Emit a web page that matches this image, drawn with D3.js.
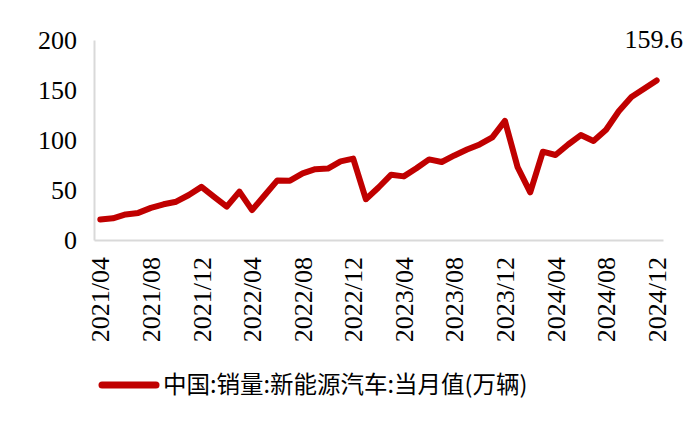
<!DOCTYPE html>
<html>
<head>
<meta charset="utf-8">
<script src="https://cdn.jsdelivr.net/npm/d3@7"></script>
<style>
  html, body { margin: 0; padding: 0; background: #fff; }
  svg { display: block; }
</style>
</head>
<body>
<svg id="chart" width="700" height="425"></svg>
<script>
const months = [
  "2021/04","2021/05","2021/06","2021/07","2021/08","2021/09","2021/10","2021/11","2021/12",
  "2022/01","2022/02","2022/03","2022/04","2022/05","2022/06","2022/07","2022/08","2022/09","2022/10","2022/11","2022/12",
  "2023/01","2023/02","2023/03","2023/04","2023/05","2023/06","2023/07","2023/08","2023/09","2023/10","2023/11","2023/12",
  "2024/01","2024/02","2024/03","2024/04","2024/05","2024/06","2024/07","2024/08","2024/09","2024/10","2024/11","2024/12"
];
const sales = [
  20.6, 21.7, 25.6, 27.1, 32.1, 35.7, 38.3, 45.0, 53.1,
  43.1, 33.4, 48.4, 29.9, 44.7, 59.6, 59.3, 66.6, 70.8, 71.4, 78.6, 81.4,
  40.8, 52.5, 65.3, 63.6, 71.7, 80.6, 78.0, 84.6, 90.4, 95.6, 102.6, 119.1,
  72.9, 47.7, 88.3, 85.0, 95.5, 104.9, 99.1, 110.3, 128.7, 143.0, 151.2, 159.6
];
const tickLabels = ["2021/04","2021/08","2021/12","2022/04","2022/08","2022/12","2023/04","2023/08","2023/12","2024/04","2024/08","2024/12"];
const yTicks = [0, 50, 100, 150, 200];
const seriesName = "中国:销量:新能源汽车:当月值(万辆)";
const lastLabel = "159.6";

const svg = d3.select("#chart");
const serif = "'Liberation Serif', 'Times New Roman', serif";
const red = "#c00000";
const axisColor = "#d9d9d9";

const x = d3.scaleBand().domain(months).range([94, 663]).padding(0);
const y = d3.scaleLinear().domain([0, 200]).range([240, 40]);
const cx = m => x(m) + x.bandwidth() / 2;

// Y axis
const yAxis = svg.append("g").attr("transform", "translate(94,0)")
  .call(d3.axisLeft(y).tickValues(yTicks).tickSize(0).tickPadding(17).tickFormat(d3.format("d")));
yAxis.select(".domain").attr("stroke", axisColor).attr("stroke-width", 2);
yAxis.selectAll("text").attr("font-family", serif).attr("font-size", 26).attr("fill", "#000");

// X axis
const xAxis = svg.append("g").attr("transform", "translate(0,240)")
  .call(d3.axisBottom(x).tickValues(tickLabels).tickSize(0).tickPadding(0));
xAxis.select(".domain").attr("stroke", axisColor).attr("stroke-width", 2);
xAxis.selectAll("text")
  .attr("font-family", serif).attr("font-size", 26).attr("fill", "#000")
  .attr("text-anchor", "end")
  .attr("transform", "rotate(-90)")
  .attr("x", -17).attr("y", 0).attr("dy", "0.35em");

// Line
const line = d3.line()
  .x((d, i) => cx(months[i]))
  .y(d => y(d));
svg.append("path")
  .datum(sales)
  .attr("d", line)
  .attr("fill", "none")
  .attr("stroke", red)
  .attr("stroke-width", 6)
  .attr("stroke-linejoin", "round")
  .attr("stroke-linecap", "round");

// End label
svg.append("text")
  .attr("x", cx(months[months.length - 1]) - 3)
  .attr("y", 48)
  .attr("text-anchor", "middle")
  .attr("font-family", serif).attr("font-size", 26).attr("fill", "#000")
  .text(lastLabel);

// Legend
const legend = svg.append("g").attr("transform", "translate(0,385)");
legend.append("line")
  .attr("x1", 102).attr("x2", 156).attr("y1", 0).attr("y2", 0)
  .attr("stroke", red).attr("stroke-width", 7).attr("stroke-linecap", "round");
legend.append("text")
  .attr("x", 163).attr("y", 0).attr("dy", "0.35em")
  .attr("font-family", "'Noto Sans CJK SC', sans-serif").attr("font-size", 23.5).attr("fill", "#000")
  .text(seriesName);
</script>
</body>
</html>
